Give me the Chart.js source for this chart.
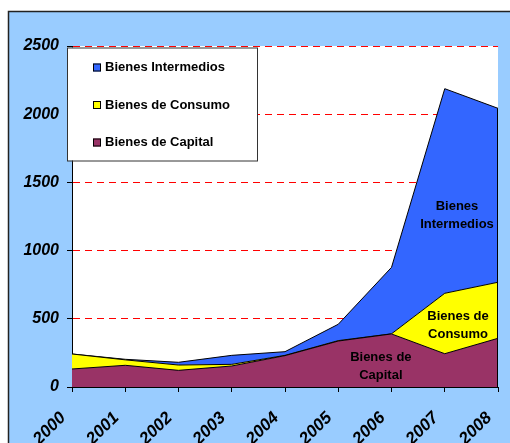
<!DOCTYPE html>
<html>
<head>
<meta charset="utf-8">
<script src="https://cdn.jsdelivr.net/npm/chart.js@4/dist/chart.umd.min.js"></script>
<style>
  html, body { margin: 0; padding: 0; background: #fff; }
  canvas { display: block; }
</style>
</head>
<body>
<canvas id="chart" width="510" height="443"></canvas>
<script>
const years = ['2000', '2001', '2002', '2003', '2004', '2005', '2006', '2007', '2008'];
const capital = [132, 159, 122, 154, 230, 337, 389, 244, 357];
const consumo = [110, 40, 39, 12, 2, 3, 1, 443, 411];
const intermedios = [0, 4, 20, 66, 27, 120, 487, 1500, 1275];
const yTicks = [0, 500, 1000, 1500, 2000, 2500];

const seriesNames = ['Bienes de Capital', 'Bienes de Consumo', 'Bienes Intermedios'];
const seriesColors = ['#993366', '#ffff00', '#3366ff'];

// text written inside the areas, anchored in data units (category index, value)
const areaLabels = [
  { lines: ['Bienes', 'Intermedios'], at: [7.23, 1260] },
  { lines: ['Bienes de', 'Consumo'], at: [7.25, 455] },
  { lines: ['Bienes de', 'Capital'], at: [5.8, 152] },
];

const FONT = 'Arial, "Liberation Sans", sans-serif';

// light blue panel with a dark frame on top and left, white plot area
const framePlugin = {
  id: 'frame',
  beforeDraw(chart) {
    const { ctx, width, height, chartArea: a } = chart;
    ctx.save();
    ctx.fillStyle = '#ffffff';
    ctx.fillRect(0, 0, width, height);
    ctx.fillStyle = '#99ccff';
    ctx.fillRect(8, 11, width - 8, height - 11);
    ctx.strokeStyle = '#222';
    ctx.lineWidth = 1.5;
    ctx.beginPath();
    ctx.moveTo(width, 11.5);
    ctx.lineTo(8.5, 11.5);
    ctx.lineTo(8.5, height);
    ctx.stroke();
    ctx.fillStyle = '#ffffff';
    ctx.fillRect(a.left, a.top, a.right - a.left, a.bottom - a.top);
    ctx.restore();
  },
};

// closing edge at the last year, area labels and the boxed legend
const overlayPlugin = {
  id: 'overlay',
  afterDatasetsDraw(chart) {
    const { ctx, chartArea: a, scales } = chart;
    const top = chart.getDatasetMeta(2).data;
    const last = top[top.length - 1];
    ctx.save();
    ctx.strokeStyle = '#000';
    ctx.lineWidth = 1;
    ctx.beginPath();
    ctx.moveTo(Math.round(last.x) - 0.5, last.y);
    ctx.lineTo(Math.round(last.x) - 0.5, a.bottom);
    ctx.stroke();

    ctx.fillStyle = '#000';
    ctx.font = 'bold 13px ' + FONT;
    ctx.textAlign = 'center';
    ctx.textBaseline = 'middle';
    areaLabels.forEach((l) => {
      const x = scales.x.getPixelForValue(l.at[0]);
      const y = scales.y.getPixelForValue(l.at[1]);
      l.lines.forEach((t, i) => {
        ctx.fillText(t, x, y + (i - (l.lines.length - 1) / 2) * 18);
      });
    });
    ctx.restore();
  },
  afterDraw(chart) {
    const { ctx, chartArea: a } = chart;
    const bx = a.left - 5, by = a.top + 1.5, bw = 190, bh = 113;
    ctx.save();
    ctx.fillStyle = '#ffffff';
    ctx.fillRect(bx, by, bw, bh);
    ctx.strokeStyle = '#333';
    ctx.lineWidth = 1;
    ctx.strokeRect(bx + 0.5, by + 0.5, bw, bh);
    ctx.font = 'bold 13px ' + FONT;
    ctx.textAlign = 'left';
    ctx.textBaseline = 'middle';
    for (let i = 0; i < 3; i++) {
      const k = 2 - i;
      const cy = by + 20 + i * 37.5;
      ctx.fillStyle = seriesColors[k];
      ctx.fillRect(bx + 26, cy - 4, 8, 8);
      ctx.strokeStyle = '#000';
      ctx.strokeRect(bx + 26.5, cy - 3.5, 7, 7);
      ctx.fillStyle = '#000';
      ctx.fillText(seriesNames[k], bx + 38, cy);
    }
    ctx.restore();
  },
};

const series = [capital, consumo, intermedios];

new Chart(document.getElementById('chart'), {
  type: 'line',
  data: {
    labels: years,
    datasets: series.map((d, i) => ({
      label: seriesNames[i],
      data: d,
      backgroundColor: seriesColors[i],
      borderColor: '#000',
      borderWidth: 1,
      fill: i === 0 ? 'origin' : '-1',
      pointRadius: 0,
      tension: 0,
    })),
  },
  options: {
    responsive: false,
    animation: false,
    devicePixelRatio: 1,
    layout: { padding: { top: 46, right: 12, left: 0, bottom: 0 } },
    plugins: { legend: { display: false }, tooltip: { enabled: false } },
    scales: {
      x: {
        offset: false,
        afterFit: (s) => { s.height = 56; s.paddingLeft = 0; s.paddingRight = 0; },
        grid: { drawOnChartArea: false, drawTicks: true, tickLength: 5, tickColor: '#000' },
        border: { display: true, color: '#000', width: 1 },
        ticks: {
          color: '#000',
          font: { family: FONT, size: 17, weight: 'bold', style: 'italic' },
          minRotation: 45,
          maxRotation: 45,
          padding: 16,
          labelOffset: -9,
          autoSkip: false,
        },
      },
      y: {
        stacked: true,
        min: 0,
        max: 2500,
        afterFit: (s) => { s.width = 72; },
        afterBuildTicks: (s) => { s.ticks = yTicks.map((v) => ({ value: v })); },
        grid: {
          color: (c) => (c.tick && c.tick.value === 0 ? 'rgba(0,0,0,0)' : '#ff0000'),
          lineWidth: 1,
          tickLength: 5,
          tickColor: '#000',
          tickBorderDash: [],
        },
        border: { display: true, color: '#000', width: 1, dash: [7, 5] },
        ticks: {
          color: '#000',
          font: { family: FONT, size: 16, weight: 'bold', style: 'italic' },
          padding: 8,
          callback: (v) => String(v),
        },
      },
    },
  },
  plugins: [framePlugin, overlayPlugin],
});
</script>
</body>
</html>
